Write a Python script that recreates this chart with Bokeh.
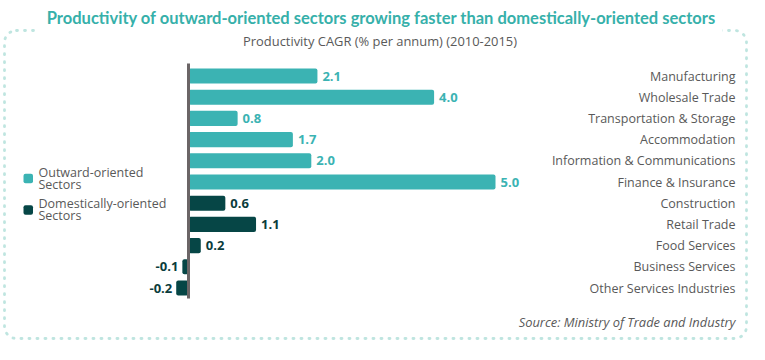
from bokeh.plotting import figure
from bokeh.models import Range1d, Label, BoxAnnotation, ColumnDataSource
from bokeh.core.properties import value
from bokeh.embed import file_html
from bokeh.resources import INLINE

# ---------------- data ----------------
sectors = ["Manufacturing", "Wholesale Trade", "Transportation & Storage", "Accommodation",
           "Information & Communications", "Finance & Insurance", "Construction",
           "Retail Trade", "Food Services", "Business Services", "Other Services Industries"]
cagr = [2.1, 4.0, 0.8, 1.7, 2.0, 5.0, 0.6, 1.1, 0.2, -0.1, -0.2]
groups = ["Outward-oriented Sectors"] * 6 + ["Domestically-oriented Sectors"] * 5
group_names = ["Outward-oriented Sectors", "Domestically-oriented Sectors"]
title_text = "Productivity of outward-oriented sectors growing faster than domestically-oriented sectors"
subtitle_text = "Productivity CAGR (% per annum) (2010-2015)"
source_text = "Source: Ministry of Trade and Industry"

# ---------------- style ----------------
W, H = 749, 344
TEAL = "#3bb3b3"
DARK = "#064646"
TITLE_C = "#36b0aa"
BORDER_C = "#2aa898"
GREY = "#595959"
AXIS_C = "#6b6566"
FONT = "Open Sans"
group_colors = {group_names[0]: TEAL, group_names[1]: DARK}
label_colors = {group_names[0]: TEAL, group_names[1]: "#0a3c3c"}

ppu = 61.4      # pixels per % point
zero_px = 188   # canvas x of zero
row0 = 75.5     # canvas y of first row
step = 21.2     # row spacing in px

n = len(sectors)
ys = list(range(n))
src = ColumnDataSource(dict(
    y=ys,
    v=cagr,
    sector=sectors,
    color=[group_colors[g] for g in groups],
    lcolor=[label_colors[g] for g in groups],
    label=[f"{v:.1f}" for v in cagr],
    xoff=[5 if v >= 0 else -4 for v in cagr],
    align=["left" if v >= 0 else "right" for v in cagr],
))

p = figure(width=W, height=H,
           x_range=Range1d(-zero_px / ppu, (W - zero_px) / ppu),
           y_range=Range1d((H - row0) / step, -row0 / step),
           output_backend="svg", toolbar_location=None,
           min_border=0, outline_line_color=None,
           x_axis_location=None, y_axis_location=None)
p.grid.visible = False
p.background_fill_color = "white"
p.border_fill_color = "white"

def box(l, r, t, b, **kw):
    return BoxAnnotation(left=l, right=r, top=H - t, bottom=H - b,
                         left_units="screen", right_units="screen",
                         top_units="screen", bottom_units="screen", **kw)

# dotted border + mask behind the title
p.add_layout(box(4, 746, 30, 338, fill_alpha=0, line_color=BORDER_C, line_width=2.8,
                 line_dash="1 7", line_cap="round", border_radius=12))
p.add_layout(box(36, 722, 24, 36, fill_color="white", fill_alpha=1, line_alpha=0))

# bars
p.hbar(y="y", left=0, right="v", height=0.71, fill_color="color", line_color=None,
       border_radius=2, source=src)
# zero axis line
p.segment(x0=0, x1=0, y0=(63 - row0) / step, y1=(298 - row0) / step,
          line_color=AXIS_C, line_width=3)

# value labels
p.text(x="v", y="y", text="label", x_offset="xoff", text_align="align",
       text_baseline="middle", text_font=value(FONT), text_font_style="bold",
       text_font_size="13px", text_color="lcolor", source=src)

# category labels (right)
cat_x = (735 - zero_px) / ppu
p.text(x=cat_x, y="y", text="sector", text_align="right", text_baseline="middle",
       text_font=value(FONT), text_font_size="12.5px", text_color=GREY, source=src)

def add_label(text, x, y, **kw):
    opts = dict(x=x, y=H - y, x_units="screen", y_units="screen",
                text_font=FONT, text_baseline="middle", text_color=GREY,
                text_font_size="12.5px")
    opts.update(kw)
    p.add_layout(Label(text=text, **opts))

add_label(title_text, 381, 17, text_align="center", text_font="Lato",
          text_font_style="bold", text_font_size="16.5px", text_color=TITLE_C)
add_label(subtitle_text, 379.5, 40, text_align="center", text_font_size="12.9px")
add_label(source_text, 735, 321, text_align="right", text_font_style="italic",
          text_font_size="12.9px")

# legend
leg_rows = [(178.0, group_names[0], ["Outward-oriented", "Sectors"], 171.7),
            (209.5, group_names[1], ["Domestically-oriented", "Sectors"], 202.9)]
for cy, g, lines, ty in leg_rows:
    p.add_layout(box(23, 32.5, cy - 4.75, cy + 4.75, fill_color=group_colors[g],
                     fill_alpha=1, line_alpha=0, border_radius=2))
    for i, t in enumerate(lines):
        add_label(t, 38, ty + i * 11.8, text_align="left")

open("out.html", "w").write(file_html(p, INLINE))
